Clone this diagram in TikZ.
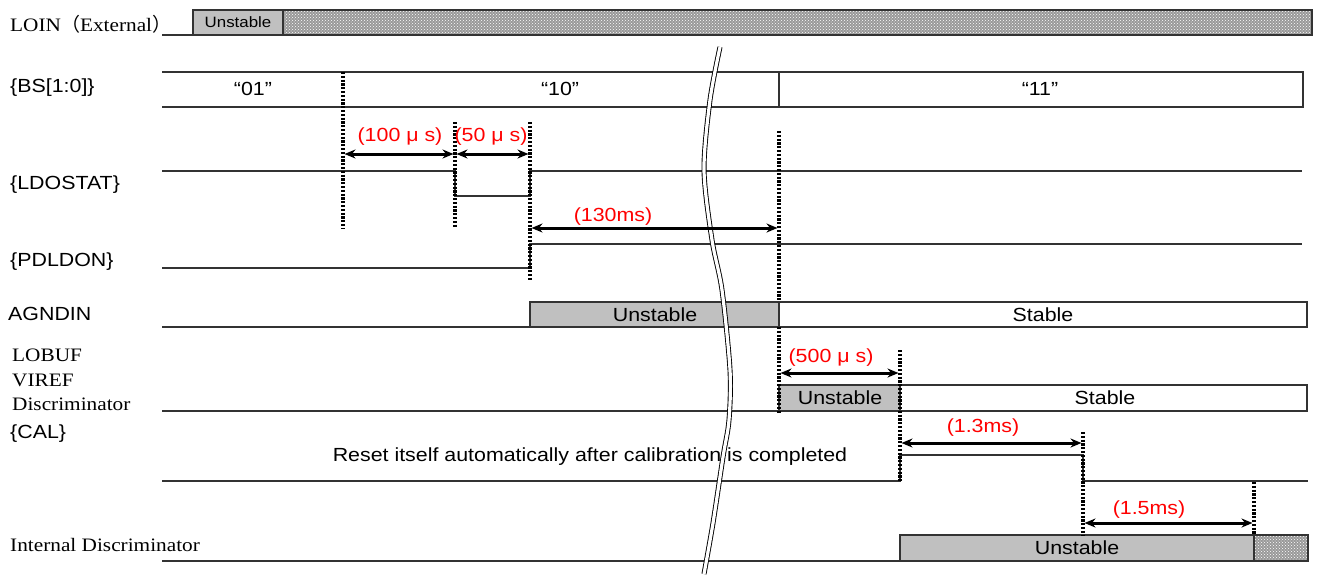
\documentclass[tikz,border=0pt]{standalone}
\usepackage{fontspec}
\setmainfont{Liberation Serif}[FakeStretch=1.12]
\setsansfont{Liberation Sans}[FakeStretch=1.125]
\newfontfamily\cjk{Noto Sans CJK SC}
\usetikzlibrary{arrows.meta,patterns}
\definecolor{boxgray}{RGB}{192,192,192}
\tikzset{
  sig/.style={line width=1.2pt,draw=black!80},
  unst/.style={sig,fill=boxgray},
  stab/.style={sig,fill=white},
  hatch/.style={sig,preaction={fill=black!40},pattern=crosshatch dots,pattern color=white},
  vdot/.style={line width=3.2pt,dash pattern=on 2.2pt off 1.6pt},
  dimarrow/.style={line width=3pt,shorten >=1.5pt,shorten <=1.5pt,{Stealth[length=11pt,width=9pt]}-{Stealth[length=11pt,width=9pt]}},
  lbl/.style={anchor=west,inner sep=0pt,font=\fontsize{19}{24.5}\selectfont\sffamily},
  slbl/.style={anchor=west,inner sep=0pt,align=left,font=\fontsize{19}{24.5}\selectfont\rmfamily},
  val/.style={inner sep=0pt,font=\fontsize{19}{23}\selectfont\sffamily},
  tval/.style={val,text=red}
}
\begin{document}
\begin{tikzpicture}[x=1pt,y=-1pt,line join=miter]
\useasboundingbox (0,0) rectangle (1317,574);
% signal names
\node[slbl] (loin) at (10,24) {LOIN{\cjk （}External{\cjk ）}};
\node[lbl] (bs) at (10,88) {\{BS[1:0]\}};
\node[lbl] (ldo) at (10,185) {\{LDOSTAT\}};
\node[lbl] (pdl) at (10,262) {\{PDLDON\}};
\node[lbl] (agn) at (8,314) {AGNDIN};
\node[slbl] (lobuf) at (12,380) {LOBUF\\VIREF\\Discriminator};
\node[lbl] (cal) at (10,434) {\{CAL\}};
\node[slbl] (intd) at (10,545) {Internal Discriminator};
% LOIN
\draw[sig] (162,35)--(193,35);
\draw[unst] (193,10) rectangle (283,35);
\draw[hatch] (283,10) rectangle (1312,35);
\node[val,font=\fontsize{15}{18}\selectfont\sffamily] (loinU) at (238,22) {Unstable};
% BS[1:0]
\draw[sig] (162,72)--(1303,72)--(1303,107)--(162,107) (779,72)--(779,107);
\foreach \x/\v in {253/01,560/10,1040/11} \node[val] (bs\v) at (\x,89) {“\v”};
% LDOSTAT, PDLDON
\draw[sig] (162,171)--(455,171)--(455,196)--(530,196)--(530,171)--(1302,171);
\draw[sig] (162,268)--(530,268)--(530,244)--(1302,244);
% AGNDIN
\draw[sig] (162,327)--(530,327);
\draw[unst] (530,302) rectangle (779,327);
\draw[stab] (779,302) rectangle (1307,327);
\node[val] (agnU) at (655,315) {Unstable};
\node[val] (agnS) at (1043,315) {Stable};
% LOBUF / VIREF / Discriminator
\draw[sig] (162,411)--(779,411);
\draw[unst] (779,385) rectangle (900,411);
\draw[stab] (900,385) rectangle (1307,411);
\node[val] (lobU) at (840,398) {Unstable};
\node[val] (lobS) at (1105,398) {Stable};
% CAL
\draw[sig] (162,481)--(900,481)--(900,455)--(1083,455)--(1083,481)--(1308,481);
\node[val] (reset) at (590,457) {Reset itself automatically after calibration is completed};
% Internal Discriminator
\draw[sig] (162,561)--(900,561);
\draw[unst] (900,535) rectangle (1254,561);
\draw[hatch] (1254,535) rectangle (1308,561);
\node[val] (intU) at (1077,548) {Unstable};
% timing marks
\foreach \x/\a/\b in {343/72/228,455/122/228,530/122/281,779/131/302,779/327/413,900/350/482,1083/432/535,1254/482/535}
  \draw[vdot] (\x,\a)--(\x,\b);
% break
\draw[line width=0.9pt,double=white,double distance=3.2pt] plot[smooth] coordinates {(720,47) (710,100) (704,170) (712,240) (722,290) (730,370) (729,420) (723,457) (713,523) (704,574)};
% intervals
\coordinate (t1) at (343,154); \coordinate (t2) at (455,154); \coordinate (t3) at (530,154);
\coordinate (t4) at (530,228); \coordinate (t5) at (779,228);
\coordinate (t6) at (779,373); \coordinate (t7) at (900,373);
\coordinate (t8) at (900,443); \coordinate (t9) at (1083,443);
\coordinate (t10) at (1083,523); \coordinate (t11) at (1254,523);
\draw[dimarrow] (t1)--(t2);
\draw[dimarrow] (t2)--(t3);
\draw[dimarrow] (t4)--(t5);
\draw[dimarrow] (t6)--(t7);
\draw[dimarrow] (t8)--(t9);
\draw[dimarrow] (t10)--(t11);
\node[tval] (d100) at (400,137) {(100 μ s)};
\node[tval] (d50) at (491,137) {(50 μ s)};
\node[tval] (d130) at (613,217) {(130ms)};
\node[tval] (d500) at (831,358) {(500 μ s)};
\node[tval] (d13) at (983,428) {(1.3ms)};
\node[tval] (d15) at (1149,510) {(1.5ms)};
\end{tikzpicture}
\end{document}
